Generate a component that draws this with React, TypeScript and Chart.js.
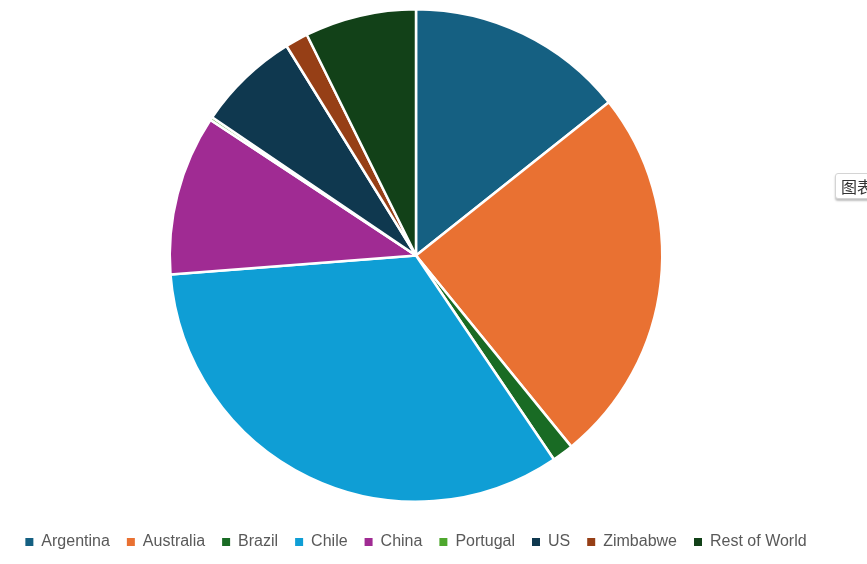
import React, { useEffect, useRef } from "react";
import { Chart, registerables } from "chart.js";

Chart.register(...registerables);

const categories = ["Argentina", "Australia", "Brazil", "Chile", "China", "Portugal", "US", "Zimbabwe", "Rest of World"];
const shares = [14.3, 24.8, 1.4, 33.2, 10.5, 0.2, 6.7, 1.5, 7.3];
const sliceColors = ["#156082", "#E97132", "#196B24", "#0F9ED5", "#A02B93", "#4EA72E", "#0F384F", "#963F16", "#124118"];

export default function App() {
  const canvasRef = useRef<HTMLCanvasElement | null>(null);

  useEffect(() => {
    if (!canvasRef.current) return;
    const defaultLabels = Chart.overrides.pie.plugins.legend.labels.generateLabels;
    const chart = new Chart(canvasRef.current, {
      type: "pie",
      data: {
        labels: categories,
        datasets: [
          {
            data: shares,
            backgroundColor: sliceColors,
            borderColor: "#ffffff",
            borderWidth: 2.5,
          },
        ],
      },
      options: {
        animation: false,
        responsive: true,
        maintainAspectRatio: false,
        layout: { padding: { top: 8, bottom: 4, left: 0, right: 35 } },
        plugins: {
          tooltip: { enabled: false },
          legend: {
            position: "bottom",
            title: { display: true, text: "", padding: { top: 2, bottom: 0 }, font: { size: 10 } },
            labels: {
              boxWidth: 8,
              boxHeight: 8,
              padding: 17,
              color: "#595959",
              font: { family: "'Liberation Sans', Arial, sans-serif", size: 16 },
              generateLabels: (c: Chart) =>
                defaultLabels(c).map((item: any) => ({ ...item, lineWidth: 0, strokeStyle: item.fillStyle })),
            },
          },
        },
      },
    });
    return () => chart.destroy();
  }, []);

  return (
    <div style={{ position: "fixed", left: 0, top: 0, width: 867, height: 564, overflow: "hidden", background: "#ffffff" }}>
      <canvas ref={canvasRef} />
      <div
        style={{
          position: "absolute",
          left: 835,
          top: 173,
          height: 24,
          paddingLeft: 5,
          paddingRight: 10,
          border: "1px solid #d4d4d4",
          borderRadius: 3,
          boxShadow: "0 2px 2px rgba(0,0,0,0.25)",
          background: "#ffffff",
          fontFamily: "'Noto Sans CJK SC', sans-serif",
          fontSize: 16,
          lineHeight: "24px",
          color: "#333333",
          whiteSpace: "nowrap",
        }}
      >
        图表筛选器
      </div>
    </div>
  );
}
